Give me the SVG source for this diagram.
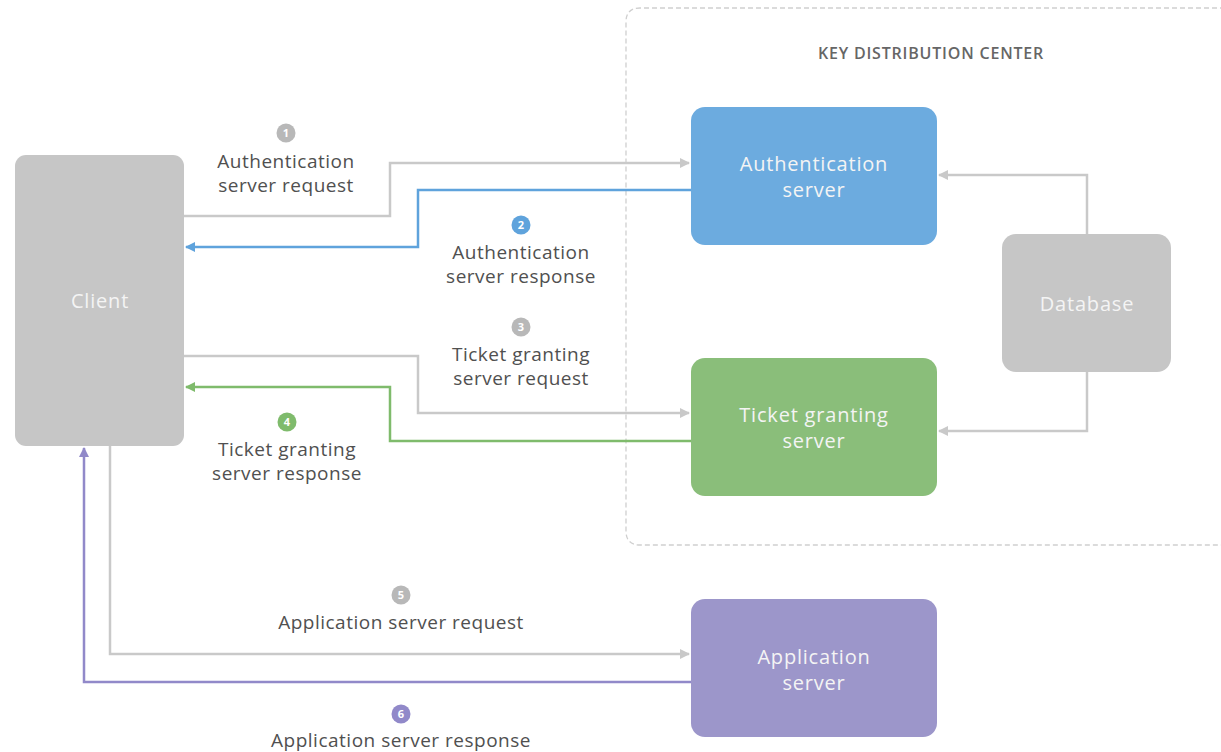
<svg xmlns="http://www.w3.org/2000/svg" width="1221" height="752" viewBox="0 0 1221 752">
<defs>
<marker id="ag" viewBox="0 0 10 10" refX="9" refY="5" markerWidth="10" markerHeight="10" markerUnits="userSpaceOnUse" orient="auto"><path d="M0,0 L10,5 L0,10 z" fill="#c9c9c9"/></marker>
<marker id="ab" viewBox="0 0 10 10" refX="9" refY="5" markerWidth="10" markerHeight="10" markerUnits="userSpaceOnUse" orient="auto"><path d="M0,0 L10,5 L0,10 z" fill="#5fa3dc"/></marker>
<marker id="agr" viewBox="0 0 10 10" refX="9" refY="5" markerWidth="10" markerHeight="10" markerUnits="userSpaceOnUse" orient="auto"><path d="M0,0 L10,5 L0,10 z" fill="#7fbb6c"/></marker>
<marker id="ap" viewBox="0 0 10 10" refX="9" refY="5" markerWidth="10" markerHeight="10" markerUnits="userSpaceOnUse" orient="auto"><path d="M0,0 L10,5 L0,10 z" fill="#9189c9"/></marker>
</defs>
<style>
.lbl{font-family:"Open Sans","Liberation Sans",sans-serif;font-size:19px;letter-spacing:0.5px;font-weight:500;fill:#505050;text-anchor:middle}
.nt{font-family:"Open Sans","Liberation Sans",sans-serif;font-size:20px;letter-spacing:0.8px;font-weight:500;fill:#f4f4f4;text-anchor:middle}
.num{font-family:"Open Sans","Liberation Sans",sans-serif;font-size:11px;fill:#fff;text-anchor:middle;font-weight:bold}
.c{fill:none;stroke-width:2.5}
.g{stroke:#c9c9c9}
</style>
<rect width="1221" height="752" fill="#fff"/>
<g id="kdc">
<path d="M1225,8 H640 Q626,8 626,22 V531 Q626,545 640,545 H1225" fill="none" stroke="#cfcfcf" stroke-width="1.3" stroke-dasharray="5 3"/>
<text x="931" y="59" style="font-family:'Open Sans','Liberation Sans',sans-serif;font-size:16px;letter-spacing:0.8px;font-weight:600;fill:#666;text-anchor:middle">KEY DISTRIBUTION CENTER</text>
</g>
<g id="connectors">
<path class="c g" d="M184,216 H390 V163 H689" marker-end="url(#ag)"/>
<path class="c" stroke="#5fa3dc" d="M691,190 H418 V247 H186" marker-end="url(#ab)"/>
<path class="c g" d="M184,356 H418 V413 H689" marker-end="url(#ag)"/>
<path class="c" stroke="#7fbb6c" d="M691,441 H390 V387 H186" marker-end="url(#agr)"/>
<path class="c g" d="M110,446 V654 H689" marker-end="url(#ag)"/>
<path class="c" stroke="#9189c9" d="M691,682 H84 V448" marker-end="url(#ap)"/>
<path class="c g" d="M1087,234 V175 H939" marker-end="url(#ag)"/>
<path class="c g" d="M1087,372 V431 H939" marker-end="url(#ag)"/>
</g>
<g id="client"><rect x="15" y="155" width="169" height="291" rx="11" fill="#c6c6c6"/><text class="nt" x="100" y="308">Client</text></g>
<g id="auth"><rect x="691" y="107" width="246" height="138" rx="14" fill="#6cabdf"/><text class="nt" x="814" y="171">Authentication</text><text class="nt" x="814" y="197">server</text></g>
<g id="tgs"><rect x="691" y="358" width="246" height="138" rx="14" fill="#8abe7a"/><text class="nt" x="814" y="422">Ticket granting</text><text class="nt" x="814" y="448">server</text></g>
<g id="db"><rect x="1002" y="234" width="169" height="138" rx="14" fill="#c6c6c6"/><text class="nt" x="1087" y="311">Database</text></g>
<g id="app"><rect x="691" y="599" width="246" height="138" rx="14" fill="#9c96ca"/><text class="nt" x="814" y="664">Application</text><text class="nt" x="814" y="690">server</text></g>
<g id="label1"><circle cx="286" cy="133" r="9.5" fill="#b8b8b8"/><text class="num" x="286" y="137">1</text><text class="lbl" x="286" y="168">Authentication</text><text class="lbl" x="286" y="192">server request</text></g>
<g id="label2"><circle cx="521" cy="225" r="9.5" fill="#5fa3dc"/><text class="num" x="521" y="229">2</text><text class="lbl" x="521" y="259">Authentication</text><text class="lbl" x="521" y="283">server response</text></g>
<g id="label3"><circle cx="521" cy="327" r="9.5" fill="#b8b8b8"/><text class="num" x="521" y="331">3</text><text class="lbl" x="521" y="361">Ticket granting</text><text class="lbl" x="521" y="385">server request</text></g>
<g id="label4"><circle cx="287" cy="422" r="9.5" fill="#7fbb6c"/><text class="num" x="287" y="426">4</text><text class="lbl" x="287" y="456">Ticket granting</text><text class="lbl" x="287" y="480">server response</text></g>
<g id="label5"><circle cx="401" cy="595" r="9.5" fill="#b8b8b8"/><text class="num" x="401" y="599">5</text><text class="lbl" x="401" y="629">Application server request</text></g>
<g id="label6"><circle cx="401" cy="714" r="9.5" fill="#9189c9"/><text class="num" x="401" y="718">6</text><text class="lbl" x="401" y="747">Application server response</text></g>
</svg>
